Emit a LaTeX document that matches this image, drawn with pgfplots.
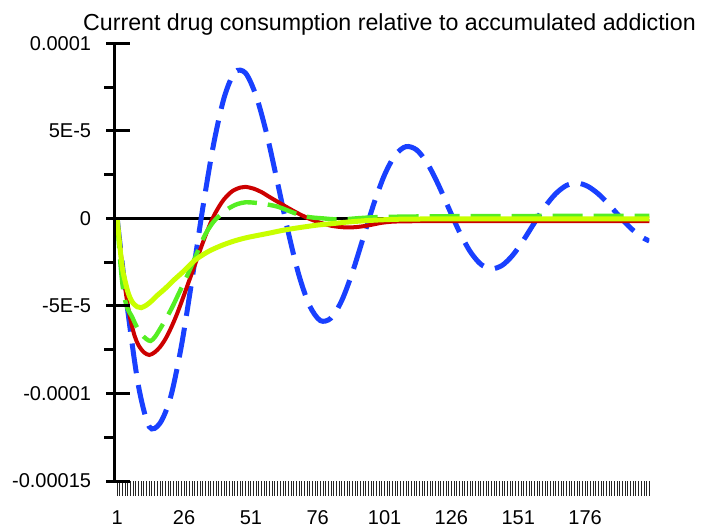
\documentclass[border=0pt]{standalone}
\usepackage{pgfplots}
\pgfplotsset{compat=1.18}
\usepackage{fontspec}
\setmainfont{Liberation Sans}
\definecolor{cblue}{RGB}{25,64,255}
\definecolor{cred}{RGB}{204,0,0}
\definecolor{cgreen}{RGB}{85,238,34}
\definecolor{cyellow}{RGB}{200,255,0}
\begin{document}
\begin{tikzpicture}
\useasboundingbox (-57.25pt,-22.5pt) rectangle (293.25pt,240.5pt);
% data axis with x ticks
\begin{axis}[
  at={(0,0)}, anchor=south west,
  scale only axis, width=267.4pt, height=218.85pt,
  xmin=0, xmax=200, ymin=-0.00015, ymax=0.0001,
  axis x line*=bottom, x axis line style={draw=none},
  hide y axis,
  xtick={1,26,51,76,101,126,151,176},
  xticklabels={1,26,51,76,101,126,151,176},
  minor xtick={1,...,200},
  tick align=outside,
  major tick length=7.5pt, minor tick length=7.5pt,
  major x tick style={draw=none},
  minor x tick style={black!85, line width=0.45pt},
  xticklabel style={font=\fontsize{10}{12}\selectfont, anchor=north, inner sep=0pt, yshift=-7pt},
  scaled y ticks=false,
]
\addplot[black, line width=1.2pt] coordinates {(0,0) (200,0)};
% blue dashed
\addplot[cblue, line width=2.5pt, dash pattern=on 15pt off 6pt, smooth] coordinates {
(1,0) (5,-5.31e-5) (9,-9.6e-5) (13,-11.9e-5) (17,-11.7e-5) (21,-10.2e-5) (25,-7.3e-5)
(29,-3.48e-5) (33,0.58e-5) (37,4.19e-5) (41,6.9e-5) (45,8.35e-5) (49,8.3e-5) (53,6.98e-5)
(57,4.77e-5) (61,2.02e-5) (65,-0.80e-5) (69,-3.26e-5) (73,-5.00e-5) (77,-5.84e-5) (81,-5.69e-5)
(85,-4.69e-5) (89,-3.07e-5) (93,-1.12e-5) (97,0.84e-5) (101,2.49e-5) (105,3.62e-5) (109,4.10e-5)
(113,3.91e-5) (117,3.14e-5) (121,1.96e-5) (125,0.58e-5) (129,-0.77e-5) (133,-1.89e-5) (137,-2.62e-5)
(141,-2.88e-5) (145,-2.68e-5) (149,-2.09e-5) (153,-1.23e-5) (157,-0.26e-5) (161,0.67e-5) (165,1.41e-5)
(169,1.88e-5) (173,2.02e-5) (177,1.83e-5) (181,1.39e-5) (185,0.77e-5) (189,0.09e-5) (193,-0.55e-5)
(197,-1.05e-5) (200,-1.29e-5)};
% red solid
\addplot[cred, line width=2pt, smooth] coordinates {
(1,0) (2,-1.5e-5) (3,-2.8e-5) (4,-4.0e-5) (5,-5.0e-5) (6,-5.8e-5) (7.5,-6.7e-5) (9,-7.25e-5)
(11,-7.65e-5) (13,-7.8e-5) (15,-7.65e-5) (17,-7.35e-5) (19,-6.9e-5) (21,-6.3e-5) (23,-5.6e-5)
(25,-4.8e-5) (27,-3.95e-5) (29,-3.1e-5) (31,-2.25e-5) (33,-1.4e-5) (35,-0.6e-5) (37,0.1e-5)
(39,0.65e-5) (41,1.1e-5) (44,1.55e-5) (47,1.76e-5)
(49,1.8e-5) (52,1.7e-5) (55,1.5e-5) (58,1.22e-5) (61,0.95e-5) (64,0.68e-5) (67,0.42e-5)
(70,0.18e-5) (73,-0.03e-5) (77,-0.25e-5) (81,-0.42e-5) (85,-0.5e-5) (88,-0.52e-5) (92,-0.47e-5)
(96,-0.37e-5) (100,-0.25e-5) (105,-0.18e-5) (115,-0.16e-5) (140,-0.15e-5) (200,-0.15e-5)};
% green dashed
\addplot[cgreen, line width=2.2pt, dash pattern=on 15pt off 5.5pt, smooth] coordinates {
(1,0) (2,-2.2e-5) (3,-3.8e-5) (4,-4.7e-5) (5,-5.2e-5) (6.5,-5.6e-5) (8,-6.1e-5) (10,-6.6e-5)
(12,-6.9e-5) (13.5,-7.0e-5) (15,-6.8e-5) (16.5,-6.45e-5) (19,-5.8e-5) (21.5,-5.1e-5) (24,-4.3e-5)
(26.5,-3.5e-5) (29,-2.65e-5) (31.5,-1.75e-5) (34,-0.9e-5) (37,-0.2e-5) (40,0.25e-5) (43,0.6e-5)
(46,0.82e-5) (49,0.92e-5) (52,0.9e-5) (55,0.85e-5) (58,0.77e-5) (61,0.67e-5) (64,0.5e-5)
(67,0.32e-5) (70,0.15e-5) (74,0.05e-5) (78,0.0) (82,-0.05e-5) (86,-0.05e-5) (92,0.02e-5)
(100,0.08e-5) (120,0.12e-5) (160,0.14e-5) (200,0.15e-5)};
% yellow-green solid
\addplot[cyellow, line width=2.5pt, smooth] coordinates {
(1,0) (2,-1.6e-5) (3,-2.9e-5) (4,-3.6e-5) (5,-4.2e-5) (6,-4.6e-5) (7,-4.85e-5) (8.5,-5.05e-5)
(10,-5.1e-5) (12,-4.95e-5) (14,-4.7e-5) (16,-4.4e-5) (19,-4.0e-5) (22,-3.55e-5) (26,-3.0e-5)
(30,-2.4e-5) (35,-1.9e-5) (40,-1.55e-5) (45,-1.28e-5) (50,-1.08e-5) (57,-0.87e-5) (63,-0.68e-5)
(69,-0.53e-5) (76,-0.38e-5) (82,-0.29e-5) (88,-0.2e-5) (95,-0.12e-5) (102,-0.07e-5) (110,-0.04e-5)
(130,-0.03e-5) (200,-0.03e-5)};
\end{axis}
% y axis with ticks and title
\begin{axis}[
  at={(0,0)}, anchor=south west,
  scale only axis, width=267.4pt, height=218.85pt,
  xmin=0, xmax=200, ymin=-0.00015, ymax=0.0001,
  axis y line*=left, axis x line=none,
  y axis line style={line width=1.5pt},
  ytick={-0.00015,-0.0001,-0.00005,0,0.00005,0.0001},
  yticklabels={-0.00015,-0.0001,-5E-5,0,5E-5,0.0001},
  minor y tick num=1,
  scaled y ticks=false,
  tick align=center,
  major tick length=11.5pt, minor tick length=5pt,
  major y tick style={black, line width=1.5pt, xshift=1.75pt},
  minor y tick style={black, line width=1.5pt, xshift=-2.5pt},
  yticklabel style={font=\fontsize{10}{12}\selectfont, anchor=east, inner sep=0pt, xshift=-5.75pt},
  title={Current drug consumption relative to accumulated addiction},
  title style={font=\fontsize{11.6}{14}\selectfont, at={(0.5,1)}, anchor=base, inner sep=0pt, yshift=0.65pt, xshift=3.8pt},
]
\end{axis}
\end{tikzpicture}
\end{document}
